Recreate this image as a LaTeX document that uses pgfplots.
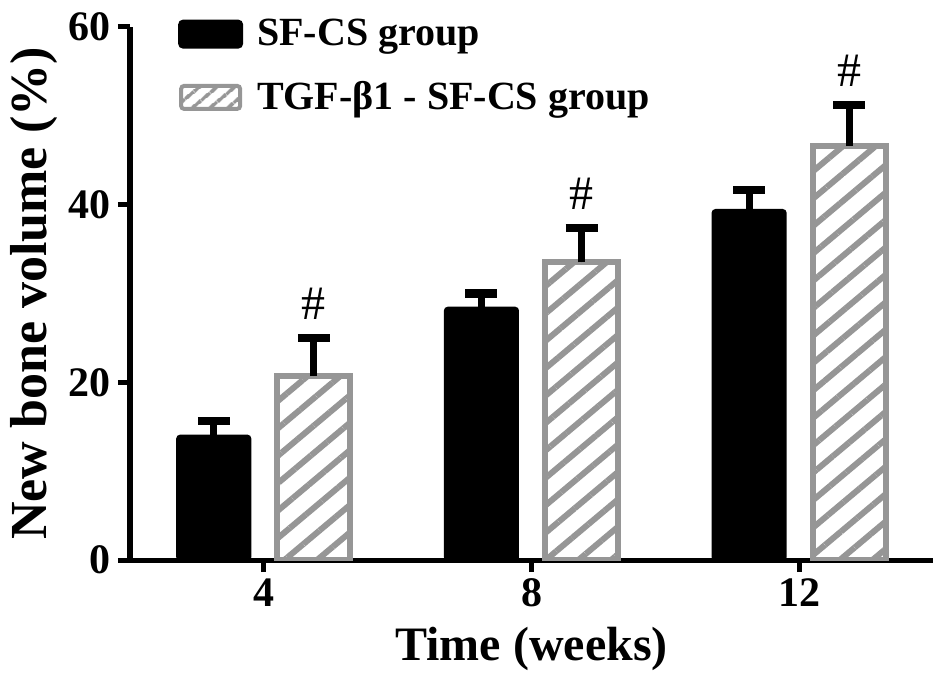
\documentclass[border=0pt]{standalone}
\usepackage{fontspec}
\setmainfont{Liberation Serif}
\usepackage{pgfplots}
\pgfplotsset{compat=1.18}
\usetikzlibrary{patterns.meta}

\definecolor{hatchgray}{RGB}{150,150,150}

\begin{document}
\begin{tikzpicture}
\begin{axis}[
  name=ax,
  scale only axis,
  width=401.5bp, height=266.5bp,
  xmin=-0.5, xmax=2.5,
  ymin=0, ymax=60,
  xtick={0,1,2},
  xticklabels={4,8,12},
  ytick={0,20,40,60},
  axis x line*=bottom,
  axis y line*=left,
  axis line style={line width=2.5bp, black},
  tick style={line width=2.5bp, black},
  tick align=outside,
  major tick length=6bp,
  /pgf/number format/assume math mode=true,
  tick label style={font=\bfseries\fontsize{21bp}{24bp}\selectfont},
  xlabel={\bfseries Time (weeks)},
  ylabel={\bfseries New bone volume (\%)},
  xlabel style={font=\fontsize{24bp}{28bp}\selectfont, at={(axis description cs:0.5,0)}, anchor=base, yshift=-50bp},
  ylabel style={font=\fontsize{26bp}{30bp}\selectfont, at={(axis description cs:-0.1034,0.5)}, anchor=base},
  legend style={draw=none, fill=none, at={(axis description cs:0.052,1.03)}, anchor=north west,
    font=\bfseries\fontsize{20bp}{24bp}\selectfont, row sep=12.5bp,
    nodes={inner xsep=7bp}},
  legend cell align=left,
]
\addplot[ybar, bar width=0.273, bar shift=0pt, fill=black, draw=black, line width=1bp,
  rounded corners=1.5bp,
  legend image code/.code={\draw[fill=black, draw=black, rounded corners=2bp] (0bp,-6.75bp) rectangle (31.5bp,6.75bp);},
  error bars/.cd, y dir=plus, y explicit,
  error bar style={line width=3.5bp, black, rounded corners=0pt},
  error mark options={rotate=90, mark size=8bp, line width=4bp, black}]
coordinates {(-0.187,14.0) +- (0,1.7) (0.813,28.4) +- (0,1.6) (1.813,39.4) +- (0,2.3)};
\addlegendentry{SF-CS group}

\addplot[ybar, bar width=0.273, bar shift=0pt, draw=hatchgray, line width=3bp,
  pattern={Lines[angle=40, distance=10.5bp, line width=3bp]}, pattern color=hatchgray,
  legend image code/.code={\draw[draw=hatchgray, line width=2bp, rounded corners=1.5bp,
    pattern={Lines[angle=40, distance=6bp, line width=2bp]}, pattern color=hatchgray] (1bp,-5.75bp) rectangle (30.5bp,5.75bp);},
  error bars/.cd, y dir=plus, y explicit,
  error bar style={line width=3.5bp, black},
  error mark options={rotate=90, mark size=8bp, line width=4bp, black}]
coordinates {(0.187,20.7) +- (0,4.3) (1.187,33.5) +- (0,3.9) (2.187,46.6) +- (0,4.6)};
\addlegendentry{TGF-β1 - SF-CS group}

\addplot[draw=none, mark=none, forget plot, nodes near coords={\#},
  every node near coord/.append style={anchor=south, inner sep=0pt, yshift=9bp,
    font=\fontsize{24bp}{28bp}\selectfont}]
coordinates {(0.187,25.0) (1.187,37.4) (2.187,51.2)};
\end{axis}
\pgfresetboundingbox
\useasboundingbox ([xshift=-65bp,yshift=-64.5bp]ax.south west) rectangle ([xshift=407.5bp,yshift=13.5bp]ax.south west |- ax.north east);
\end{tikzpicture}
\end{document}
